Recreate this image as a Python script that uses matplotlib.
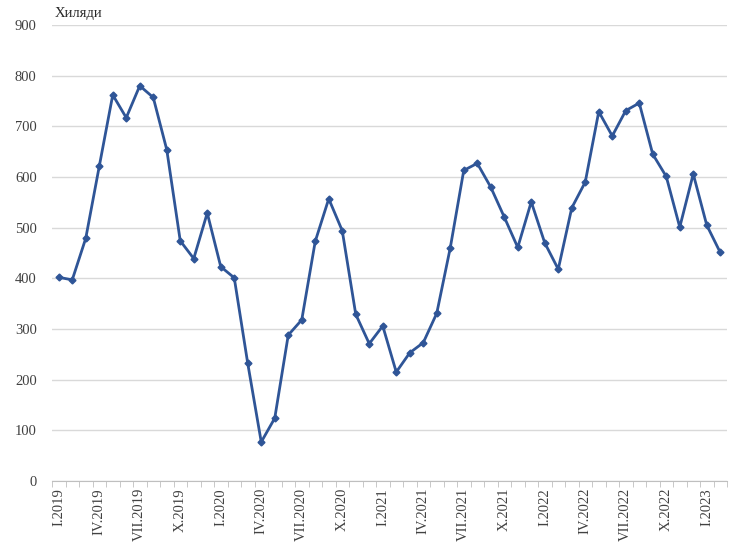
import matplotlib
matplotlib.use("Agg")
import matplotlib.pyplot as plt
import numpy as np

roman = ["I", "II", "III", "IV", "V", "VI", "VII", "VIII", "IX", "X", "XI", "XII"]
years = [2019, 2020, 2021, 2022, 2023]
months = [f"{roman[m]}.{y}" for y in years for m in range(12)][:50]

values = [402, 397, 479, 621, 762, 717, 780, 757, 654, 474, 439, 529,
          423, 401, 232, 77, 124, 288, 318, 473, 557, 494, 329, 271,
          306, 215, 253, 273, 331, 460, 613, 627, 580, 521, 461, 551,
          470, 418, 539, 590, 729, 681, 731, 746, 645, 601, 501, 606,
          505, 451]

y_ticks = [0, 100, 200, 300, 400, 500, 600, 700, 800, 900]
unit_label = "Хиляди"

plt.rcParams['font.family'] = ['Liberation Serif', 'DejaVu Serif']

fig = plt.figure(figsize=(7.40, 5.47), dpi=100)
ax = fig.add_axes([52/740, 1 - 481/547, (727-52)/740, (481-25)/547])

x = np.arange(len(values))
ax.plot(x, values, color="#2f5597", lw=2.0, marker="D", markersize=3.5,
        markerfacecolor="#2f5597", markeredgecolor="#2f5597", zorder=3)

ax.set_ylim(0, 900)
ax.set_yticks(y_ticks)
ax.set_yticklabels([str(v) for v in y_ticks], fontsize=10.5, color="#404040")
ax.yaxis.grid(True, color="#d9d9d9", lw=1)
ax.set_axisbelow(True)
ax.tick_params(axis="y", length=0, pad=11)

ax.set_xlim(-0.5, len(values) - 0.5)
lab_idx = list(range(0, len(values), 3))
ax.set_xticks(lab_idx)
ax.set_xticklabels([months[i] for i in lab_idx], rotation=90, fontsize=10.5, color="#404040")
ax.set_xticks(np.arange(-0.5, len(values), 1), minor=True)
ax.tick_params(axis="x", which="major", length=0, pad=5)
ax.tick_params(axis="x", which="minor", length=4, color="#bfbfbf", direction="out")

for s in ["left", "right", "top"]:
    ax.spines[s].set_visible(False)
ax.spines["bottom"].set_color("#bfbfbf")

fig.text(55/740, 1 - 14/547, unit_label, fontsize=10.5, color="#262626", va="center", ha="left")

fig.savefig("out.png", dpi=100)
